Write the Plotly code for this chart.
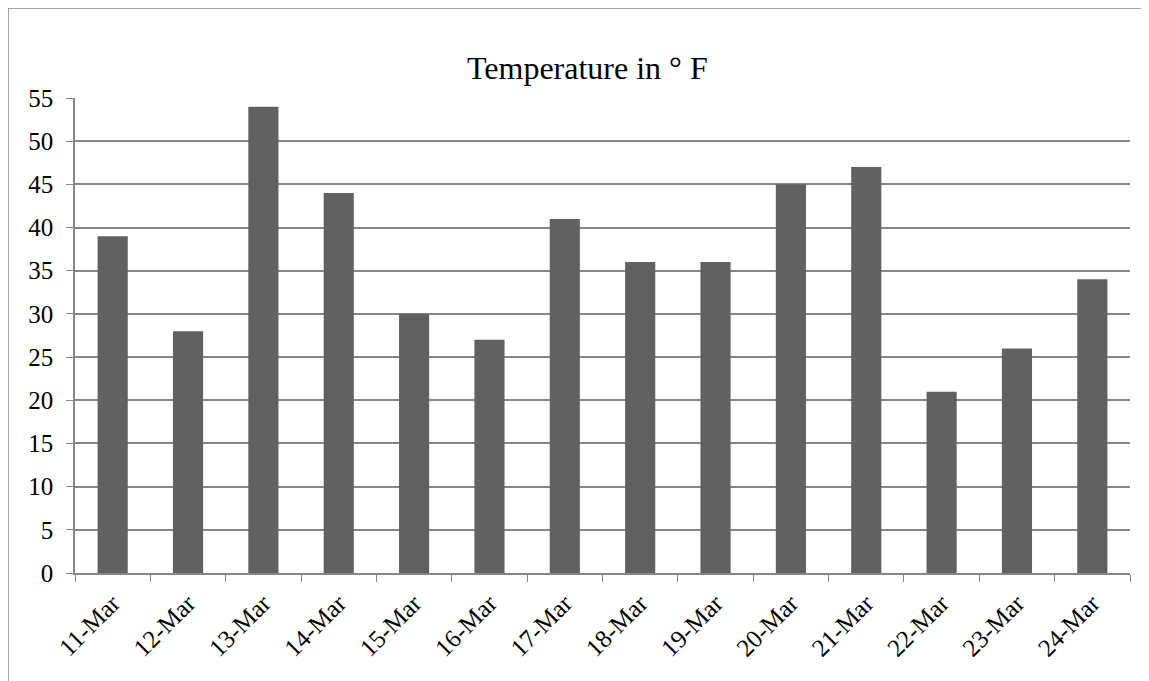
import plotly.graph_objects as go

dates = ["11-Mar", "12-Mar", "13-Mar", "14-Mar", "15-Mar", "16-Mar", "17-Mar",
         "18-Mar", "19-Mar", "20-Mar", "21-Mar", "22-Mar", "23-Mar", "24-Mar"]
temps = [39, 28, 54, 44, 30, 27, 41, 36, 36, 45, 47, 21, 26, 34]
y_ticks = list(range(0, 60, 5))

# page has an 8px body margin; figure origin lands at page (8, 8)
OFF = 8
W, H = 1149 - OFF, 681 - OFF
L, T = 75 - OFF, 98 - OFF
pw, ph = 1055, 475
R, B = W - L - pw, H - T - ph

fig = go.Figure(go.Bar(x=dates, y=temps, marker=dict(color="#616161", line=dict(width=0))))

def px_x(x):  # page px -> paper
    return (x - OFF - L) / pw

def px_y(y):
    return 1 - (y - OFF - T) / ph

fig.update_layout(
    width=W, height=H,
    margin=dict(l=L, r=R, t=T, b=B),
    paper_bgcolor="white", plot_bgcolor="white",
    font=dict(family="Liberation Serif, Times New Roman, serif", size=22, color="black"),
    bargap=0.6,
    showlegend=False,
    annotations=[dict(text="Temperature in ° F", xref="paper", yref="paper",
                      x=px_x(587), y=px_y(68), showarrow=False,
                      font=dict(size=32), xanchor="center", yanchor="middle")],
    shapes=[
        dict(type="line", xref="paper", yref="paper", x0=px_x(8), x1=px_x(1149),
             y0=px_y(8), y1=px_y(8), line=dict(color="#868686", width=1.5)),
        dict(type="line", xref="paper", yref="paper", x0=px_x(8), x1=px_x(8),
             y0=px_y(8), y1=px_y(681), line=dict(color="#868686", width=1.5)),
    ],
)
fig.update_xaxes(
    type="category", tickangle=-45, ticks="outside", tickson="boundaries",
    ticklen=7, tickcolor="#868686", showline=True, linecolor="#868686", linewidth=1.5,
    showgrid=False, tickfont=dict(size=25), ticklabelstandoff=4,
)
fig.update_yaxes(
    range=[0, 55], tickvals=y_ticks, ticks="outside", ticklen=7, tickcolor="#868686",
    showline=True, linecolor="#868686", linewidth=1.5,
    showgrid=True, gridcolor="#868686", gridwidth=1.5, zeroline=False,
    tickfont=dict(size=25), ticklabelstandoff=8,
)
fig.write_html("out.html")
